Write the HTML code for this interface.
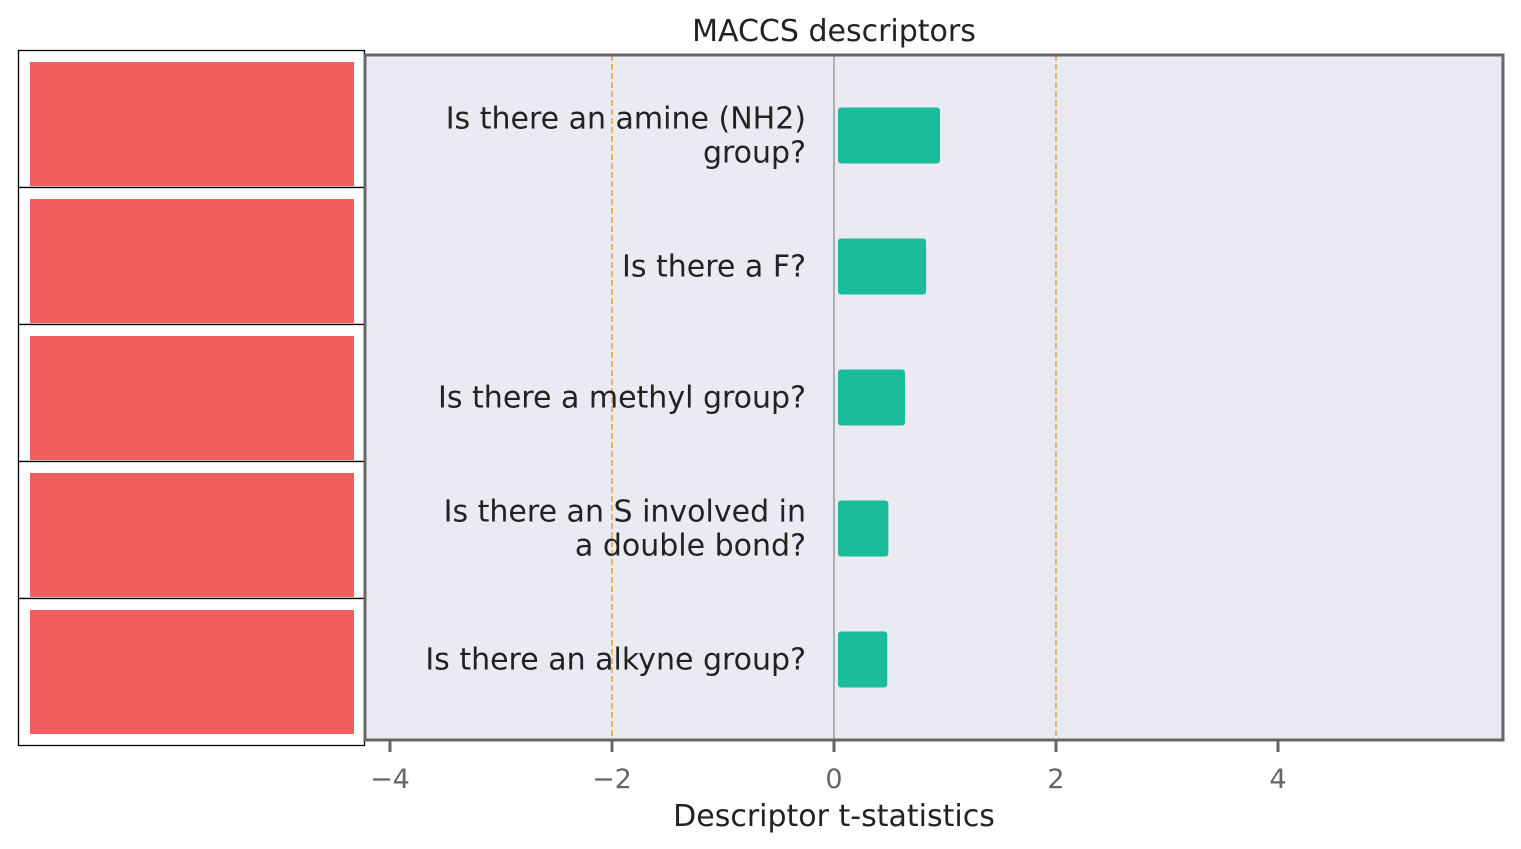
<!DOCTYPE html>
<html><head><meta charset="utf-8"><style>
body{margin:0;background:#fff;}
svg{display:block;font-family:"DejaVu Sans","Liberation Sans",sans-serif;}
</style></head><body>
<svg id="chart" width="1521" height="849"></svg>
<script>
const categories=[["Is there an amine (NH2)","group?"],["Is there a F?"],["Is there a methyl group?"],["Is there an S involved in","a double bond?"],["Is there an alkyne group?"]];
const tValues=[0.955,0.83,0.64,0.49,0.48];
const tickValues=[-4,-2,0,2,4];
const tickLabels=["\u22124","\u22122","0","2","4"];
const thresholds=[-2,2];

const NS="http://www.w3.org/2000/svg";
const svg=document.getElementById('chart');
const L=365,R=1503,T=55,B=740;
const xMin=-4.225,xMax=6.027;
const x=v=>L+(v-xMin)/(xMax-xMin)*(R-L);
const rowH=131,firstC=135.5;
const y=i=>firstC+i*rowH;
function mk(tag,attrs,parent){const e=document.createElementNS(NS,tag);for(const k in attrs)e.setAttribute(k,attrs[k]);(parent||svg).appendChild(e);return e;}

let bg=mk('rect',{x:L,y:T,width:R-L,height:B-T,fill:'#eaeaf2'});



let title=mk('text',{x:834,y:41,'text-anchor':'middle','font-size':30,fill:'#222'});
title.textContent='MACCS descriptors';



thresholds.forEach(v=>{
  let l=mk('line',{x1:x(v),x2:x(v),y1:T,y2:B,stroke:'#f0a030','stroke-width':1.5,'stroke-dasharray':'6,3'});
  
  
});
let z=mk('line',{x1:x(0),x2:x(0),y1:T,y2:B,stroke:'#888','stroke-width':1.2});



tValues.forEach((v,i)=>{
  const x0=x(0)+4, x1=x(v);
  let b=mk('rect',{x:Math.min(x0,x1),y:y(i)-28,width:Math.abs(x1-x0),height:56,rx:3,fill:'#1abc9c'});
  
  
  const lines=categories[i];
  const t=mk('text',{'text-anchor':'end','font-size':30,fill:'#222'});
  
  
  lines.forEach((s,j)=>{
    const ts=mk('tspan',{x:806,y:y(i)+10+(j-(lines.length-1)/2)*34},t);ts.textContent=s;
  });
  const h=(i===4)?147:137;
  let box=mk('rect',{x:18.5,y:50.5+i*137,width:346,height:h,fill:'#fff',stroke:'#000','stroke-width':1.3});
  
  
  let img=mk('rect',{x:30,y:62+i*137,width:324,height:124,fill:'#ef5f5f'});
  
  
});

let fr=mk('rect',{x:L,y:T,width:R-L,height:B-T,fill:'none',stroke:'#666','stroke-width':3});



tickValues.forEach((v,i)=>{
  let tk=mk('line',{x1:x(v),x2:x(v),y1:B,y2:B+12,stroke:'#666','stroke-width':3});
  
  
  let tl=mk('text',{x:x(v),y:788,'text-anchor':'middle','font-size':27,fill:'#666'});
  tl.textContent=tickLabels[i];
  
  
});
let xt=mk('text',{x:834,y:826,'text-anchor':'middle','font-size':30,fill:'#222'});
xt.textContent='Descriptor t-statistics';


</script>
</body></html>
